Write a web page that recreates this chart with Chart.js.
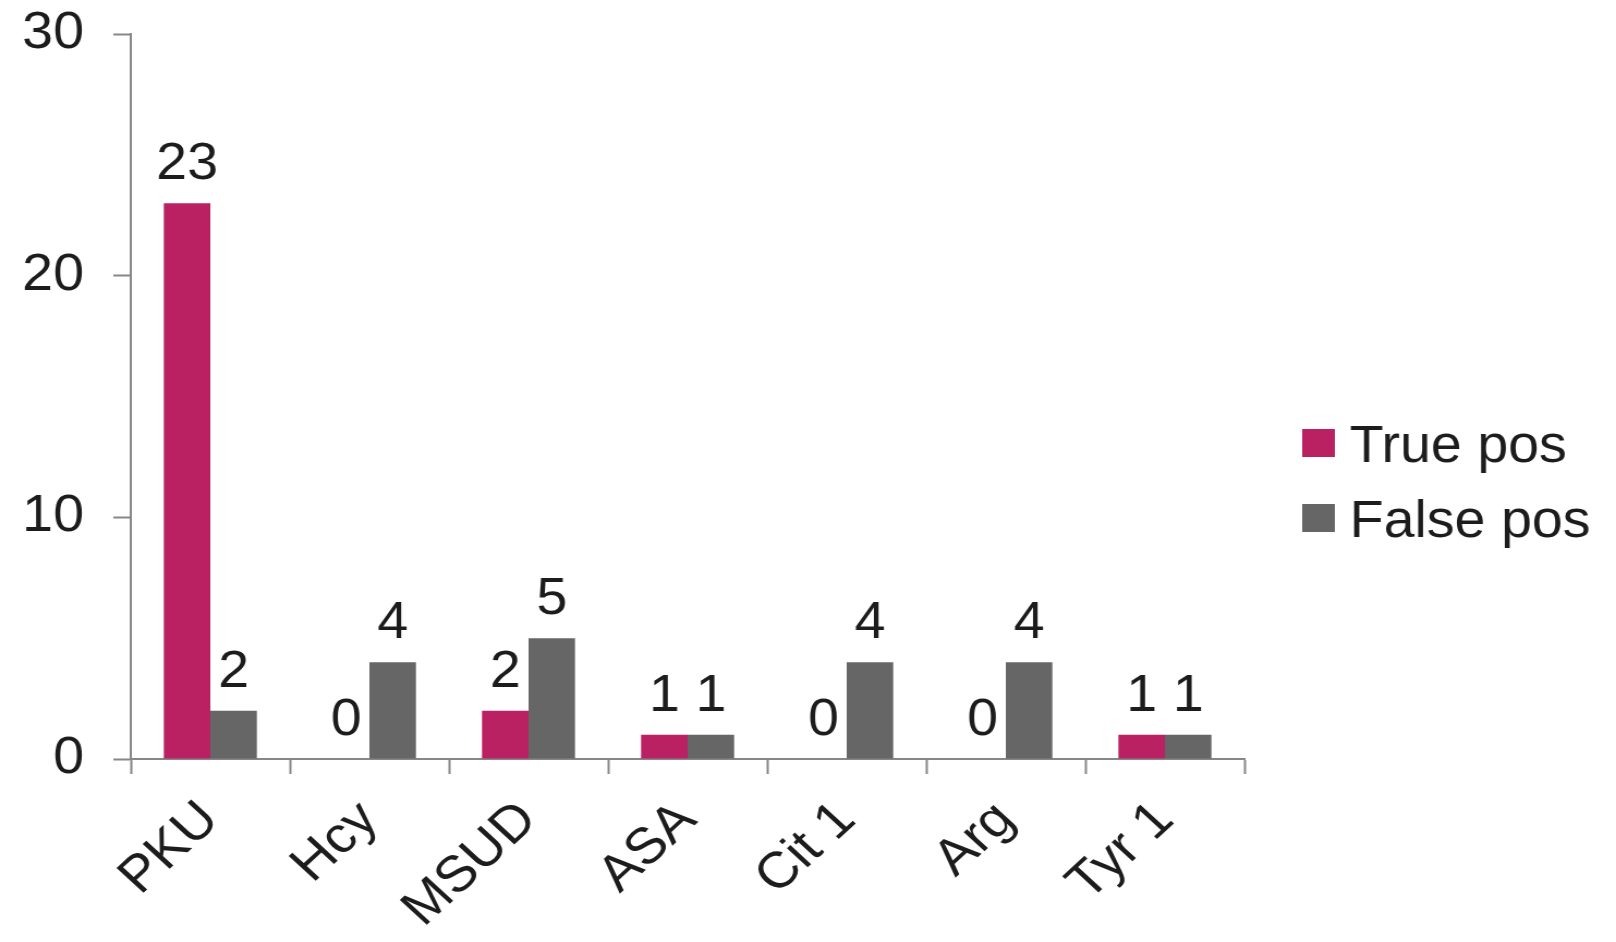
<!DOCTYPE html>
<html>
<head>
<meta charset="utf-8">
<script src="https://cdn.jsdelivr.net/npm/chart.js@4.4.1/dist/chart.umd.min.js"></script>
<style>
  html, body { margin: 0; padding: 0; background: #ffffff; overflow: hidden; }
  /* the drawing is laid out a little narrower and widened horizontally */
  #wrap { position: absolute; left: 0; top: 0; width: 1483px; height: 942px;
          transform: scaleX(1.0897); transform-origin: 0 0; }
</style>
</head>
<body>
<div id="wrap"><canvas id="c"></canvas></div>
<script>
// Screening results per disorder
const categories = ['PKU', 'Hcy', 'MSUD', 'ASA', 'Cit 1', 'Arg', 'Tyr 1'];
const truePos  = [23, 0, 2, 1, 0, 0, 1];
const falsePos = [2, 4, 5, 1, 4, 4, 1];
const yTicks = [0, 10, 20, 30];
const seriesNames = ['True pos', 'False pos'];
const seriesColors = ['#B92162', '#666666'];

const FONT_FAMILY = '"Liberation Sans", Arial, sans-serif';
const FONT_SIZE = 51;
const TEXT_COLOR = '#1c1c1c';
const AXIS_COLOR = '#878787';

// value written above every bar
const valueLabels = {
  id: 'valueLabels',
  afterDatasetsDraw(chart) {
    const ctx = chart.ctx;
    ctx.save();
    ctx.font = FONT_SIZE + 'px ' + FONT_FAMILY;
    ctx.fillStyle = TEXT_COLOR;
    ctx.textAlign = 'center';
    ctx.textBaseline = 'alphabetic';
    chart.data.datasets.forEach((ds, i) => {
      chart.getDatasetMeta(i).data.forEach((bar, j) => {
        ctx.fillText(String(ds.data[j]), bar.x, bar.y - 24);
      });
    });
    ctx.restore();
  }
};

// square-swatch legend to the right of the plot
const sideLegend = {
  id: 'sideLegend',
  afterDraw(chart) {
    const ctx = chart.ctx;
    const area = chart.chartArea;
    const boxX = area.right + 53;
    const textX = area.right + 96.5;
    const firstCenter = 443;
    const step = 75;
    ctx.save();
    ctx.font = FONT_SIZE + 'px ' + FONT_FAMILY;
    ctx.textAlign = 'left';
    ctx.textBaseline = 'alphabetic';
    chart.data.datasets.forEach((ds, i) => {
      const cy = firstCenter + i * step;
      ctx.fillStyle = ds.backgroundColor;
      ctx.fillRect(boxX, cy - 14, 30, 28);
      ctx.fillStyle = TEXT_COLOR;
      ctx.fillText(ds.label, textX, cy + 18.5);
    });
    ctx.restore();
  }
};

const font = { family: FONT_FAMILY, size: FONT_SIZE };

new Chart(document.getElementById('c'), {
  type: 'bar',
  data: {
    labels: categories,
    datasets: [
      { label: seriesNames[0], data: truePos, backgroundColor: seriesColors[0] },
      { label: seriesNames[1], data: falsePos, backgroundColor: seriesColors[1] }
    ]
  },
  options: {
    responsive: true,
    maintainAspectRatio: false,
    animation: false,
    events: [],
    datasets: { bar: { categoryPercentage: 0.585, barPercentage: 1.0, borderWidth: 0 } },
    layout: { padding: { left: 16, right: 341, top: 34, bottom: 0 } },
    plugins: { legend: { display: false }, tooltip: { enabled: false } },
    scales: {
      x: {
        ticks: { font, color: TEXT_COLOR, minRotation: 45, maxRotation: 45, autoSkip: false, padding: 16 },
        grid: { offset: true, drawOnChartArea: false, drawTicks: true, tickLength: 15,
                tickWidth: 2, tickColor: AXIS_COLOR },
        border: { display: true, color: AXIS_COLOR, width: 2 },
        afterFit(scale) {
          scale.height = 183;
          scale.paddingLeft = 0;
          scale.paddingRight = 0;
        }
      },
      y: {
        min: 0, max: 30,
        afterBuildTicks(scale) { scale.ticks = yTicks.map(v => ({ value: v })); },
        ticks: { font, color: TEXT_COLOR, padding: 27 },
        grid: { drawOnChartArea: false, drawTicks: true, tickLength: 16,
                tickWidth: 2, tickColor: AXIS_COLOR },
        border: { display: true, color: AXIS_COLOR, width: 2 },
        afterFit(scale) {
          scale.width = 104;
          scale.paddingTop = 0;
          scale.paddingBottom = 0;
        }
      }
    }
  },
  plugins: [valueLabels, sideLegend]
});
</script>
</body>
</html>
